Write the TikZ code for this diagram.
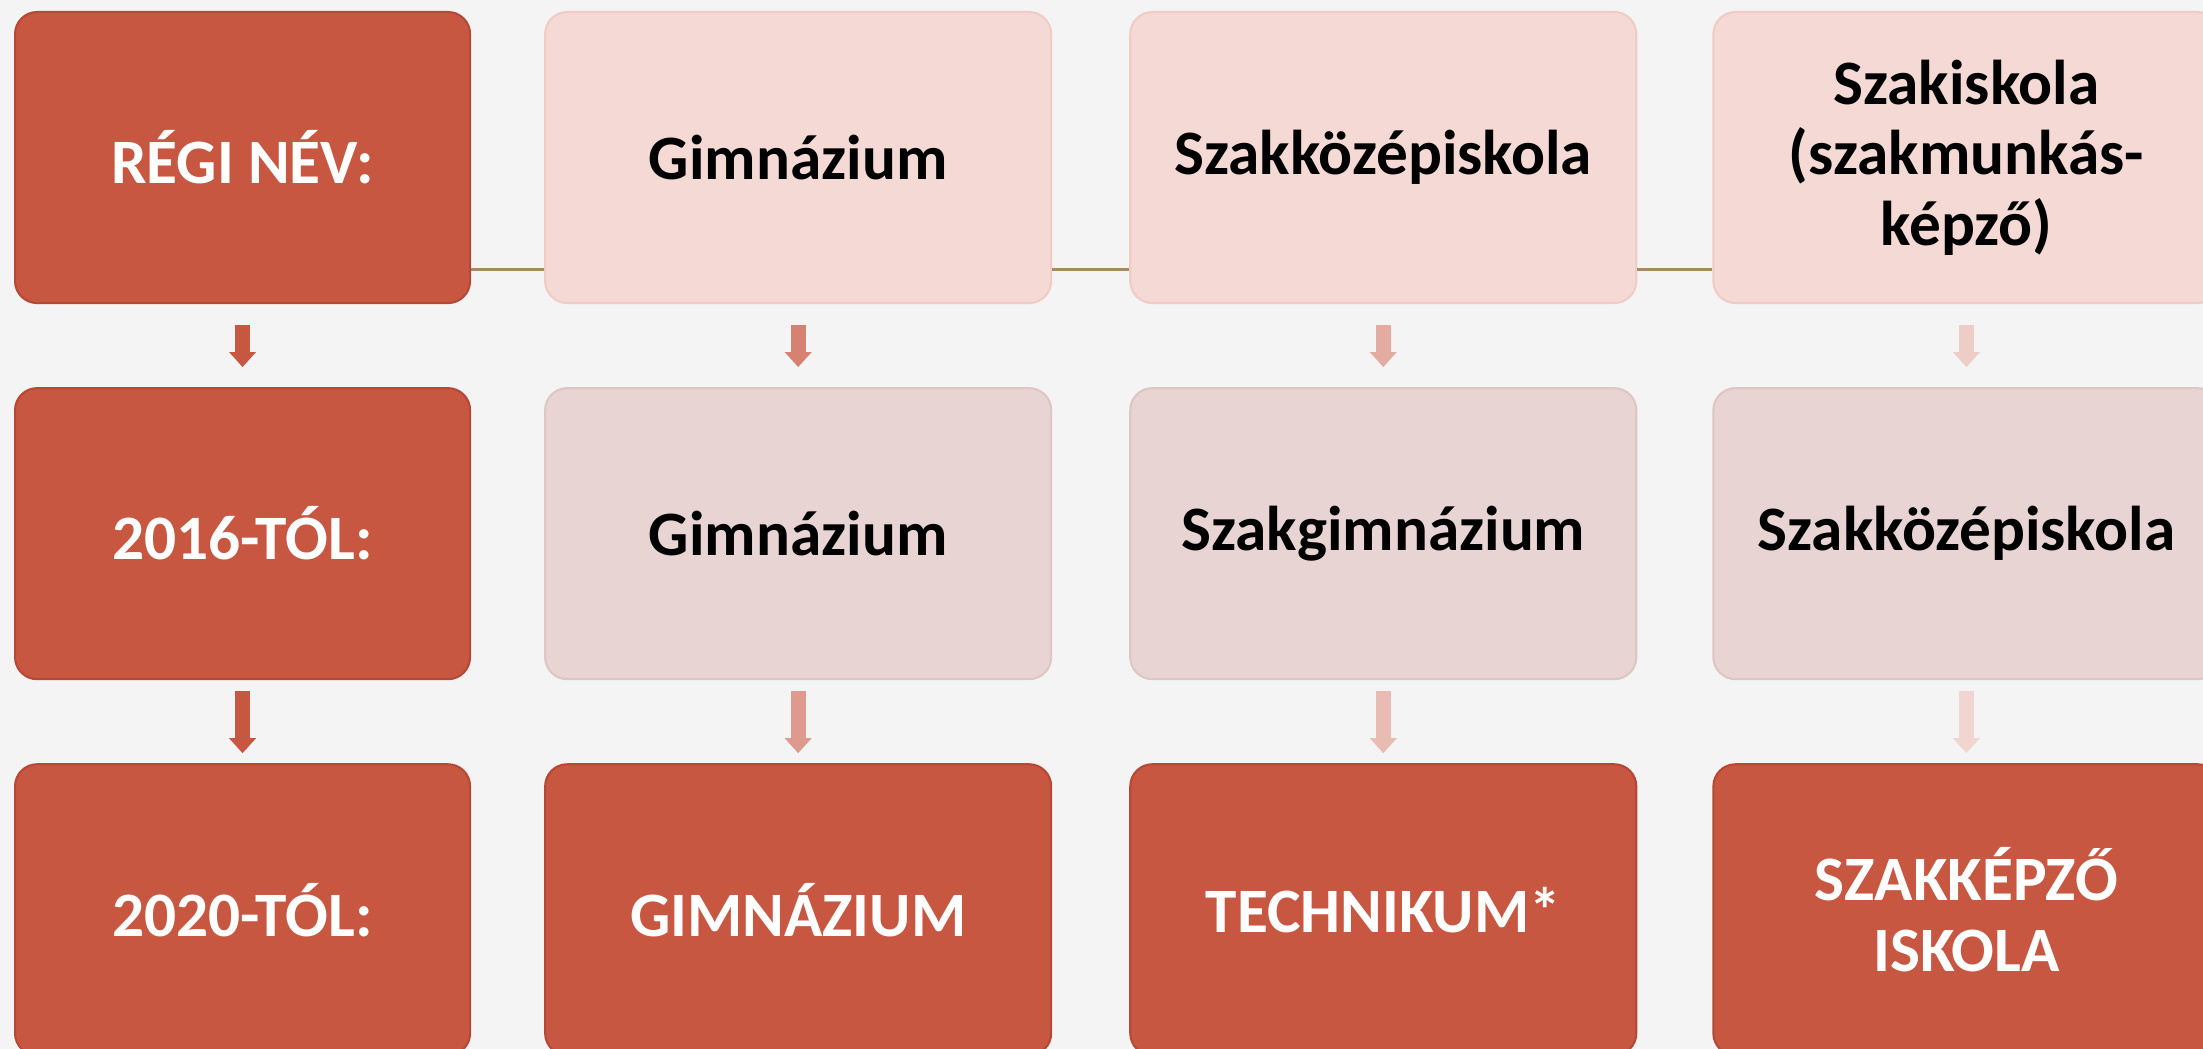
\documentclass[tikz,border=0pt]{standalone}
\usepackage{fontspec}
\setmainfont{Carlito}
\usepackage{xcolor}
\usepackage{tikz}
\usetikzlibrary{arrows.meta, positioning}
\definecolor{bgpaper}{HTML}{F4F4F4}
\definecolor{brickred}{HTML}{C85742}
\definecolor{brickedge}{HTML}{B64935}
\definecolor{oldpink}{HTML}{F4D9D4}
\definecolor{oldedge}{HTML}{F0CCC5}
\definecolor{midpink}{HTML}{E8D5D3}
\definecolor{midedge}{HTML}{DEC6C3}
\definecolor{linktan}{HTML}{A88A5E}
\tikzset{
  namebox/.style={rectangle, rounded corners=0.22cm, text centered, align=center,
                  font=\fontsize{18}{20}\selectfont\bfseries, minimum height=2.91cm,
                  minimum width=5.06cm, inner sep=2pt, line width=0.6pt},
  darkbox/.style={namebox, fill=brickred, draw=brickedge, text=white},
  oldbox/.style={namebox, fill=oldpink, draw=oldedge, text=black},
  midbox/.style={namebox, fill=midpink, draw=midedge, text=black},
  link/.style={draw=linktan, line width=0.03cm},
  downarrow/.style={draw=#1, line width=0.15cm, -{Triangle[width=0.26cm,length=0.15cm]}},
}

\begin{document}
\begin{tikzpicture}
  \useasboundingbox (0,0) rectangle (22.03,-10.49);
  \fill[bgpaper] (0,0) rectangle (22.03,-10.49);

  % old names
  \node[darkbox, minimum width=4.55cm, anchor=north west] (regi) at (0.14,-0.11) {RÉGI NÉV:};
  \node[oldbox, right=0.73cm of regi] (regigim) {Gimnázium};
  \node[oldbox, right=0.77cm of regigim] (regiszk) {Szakközépiskola};
  \node[oldbox, right=0.75cm of regiszk] (regiszi) {Szakiskola\\(szakmunkás-\\képző)};

  % from 2016
  \node[darkbox, minimum width=4.55cm, below=0.83cm of regi] (t16) {2016-TÓL:};
  \node[midbox, below=0.83cm of regigim] (t16gim) {Gimnázium};
  \node[midbox, below=0.83cm of regiszk] (t16szg) {Szakgimnázium};
  \node[midbox, below=0.83cm of regiszi] (t16szk) {Szakközépiskola};

  % from 2020
  \node[darkbox, minimum width=4.55cm, below=0.83cm of t16] (t20) {2020-TÓL:};
  \node[darkbox, below=0.83cm of t16gim] (t20gim) {GIMNÁZIUM};
  \node[darkbox, below=0.83cm of t16szg] (t20tech) {TECHNIKUM*};
  \node[darkbox, below=0.83cm of t16szk] (t20szi) {SZAKKÉPZŐ\\ISKOLA};

  \draw[link] ([yshift=0.35cm]regi.south east) -- ([yshift=0.35cm]regigim.south west);
  \draw[link] ([yshift=0.35cm]regigim.south east) -- ([yshift=0.35cm]regiszk.south west);
  \draw[link] ([yshift=0.35cm]regiszk.south east) -- ([yshift=0.35cm]regiszi.south west);

  \draw[downarrow=brickred, shorten <=0.21cm, shorten >=0.2cm] (regi) -- (t16);
  \draw[downarrow=brickred!75!white, shorten <=0.21cm, shorten >=0.2cm] (regigim) -- (t16gim);
  \draw[downarrow=brickred!50!white, shorten <=0.21cm, shorten >=0.2cm] (regiszk) -- (t16szg);
  \draw[downarrow=brickred!30!white, shorten <=0.21cm, shorten >=0.2cm] (regiszi) -- (t16szk);

  \draw[downarrow=brickred, shorten <=0.11cm, shorten >=0.1cm] (t16) -- (t20);
  \draw[downarrow=brickred!60!white, shorten <=0.11cm, shorten >=0.1cm] (t16gim) -- (t20gim);
  \draw[downarrow=brickred!40!white, shorten <=0.11cm, shorten >=0.1cm] (t16szg) -- (t20tech);
  \draw[downarrow=brickred!25!white, shorten <=0.11cm, shorten >=0.1cm] (t16szk) -- (t20szi);
\end{tikzpicture}
\end{document}
